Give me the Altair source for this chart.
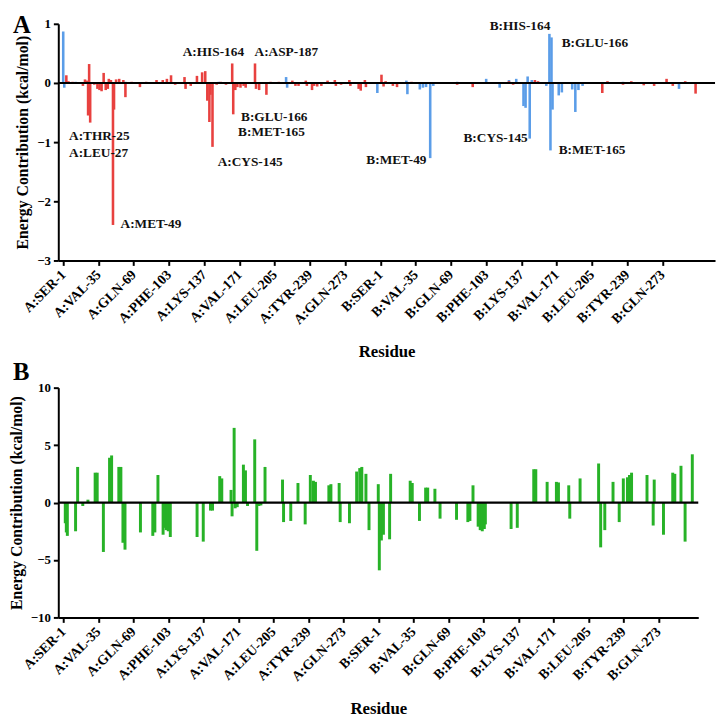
import json
import altair as alt
import pandas as pd

FONT = "Liberation Serif"

TICK_LABELS = ["A:SER-1", "A:VAL-35", "A:GLN-69", "A:PHE-103", "A:LYS-137", "A:VAL-171",
               "A:LEU-205", "A:TYR-239", "A:GLN-273", "B:SER-1", "B:VAL-35", "B:GLN-69",
               "B:PHE-103", "B:LYS-137", "B:VAL-171", "B:LEU-205", "B:TYR-239", "B:GLN-273"]
TICK_POS = [0, 34, 68, 102, 136, 170, 204, 238, 272, 306, 340, 374, 408, 442, 476, 510, 544, 578]

# Panel A, red series (residue index, energy)
RED_IDX = [3, 5, 9, 19, 21, 23, 24, 25, 26, 30, 33, 35, 37, 39, 41, 43, 44, 46, 48, 49,
           51, 54, 58, 60, 66, 74, 80, 90, 96, 100, 104, 108, 117, 118, 123, 129, 134, 137,
           139, 141, 142, 144, 148, 152, 157, 163, 164, 166, 168, 171, 174, 176, 185, 186,
           189, 196, 200, 208, 221, 224, 227, 234, 235, 240, 242, 245, 249, 255, 262, 263,
           268, 276, 277, 285, 287, 291, 292, 307, 309, 311, 318, 322, 336, 380, 395, 430,
           434, 455, 458, 520, 525, 540, 548, 560, 570, 582, 588, 600, 610]
RED_VAL = [0.13, 0.03, 0.02, -0.05, 0.06, 0.04, -0.55, 0.32, -0.67, -0.03, -0.10, -0.12, -0.14, 0.17, -0.12, -0.10, 0.07, 0.05, -2.40, -0.45,
           0.06, 0.07, 0.05, -0.24, 0.02, -0.07, 0.02, 0.05, 0.05, 0.07, 0.13, -0.03, 0.10, -0.10, -0.05, 0.12, 0.18, 0.20,
           -0.30, -0.66, -0.20, -1.08, -0.03, 0.02, -0.03, 0.33, -0.53, -0.12, -0.07, -0.08, -0.05, -0.08, 0.33, -0.10,
           -0.12, -0.20, 0.02, 0.02, 0.04, -0.05, -0.05, 0.04, -0.05, -0.12, -0.05, -0.06, -0.05, 0.04, 0.05, -0.05,
           -0.03, 0.05, -0.05, -0.10, -0.13, 0.05, -0.07, 0.14, -0.06, 0.03, -0.05, -0.07, 0.02, -0.03, -0.07, 0.03,
           -0.03, 0.05, 0.03, -0.17, 0.03, -0.03, 0.03, -0.04, -0.05, 0.07, -0.05, 0.03, -0.18]

# Panel A, blue series
BLUE_IDX = [0, 1, 12, 60, 150, 215, 216, 303, 331, 332, 344, 347, 350, 354, 357, 380, 408, 421, 430,
            437, 444, 446, 448, 450, 452, 466, 469, 470, 471, 472, 478, 481, 491, 494, 497, 501, 540, 594]
BLUE_VAL = [0.87, -0.08, 0.02, 0.02, 0.02, 0.10, -0.08, -0.17, 0.04, -0.19, -0.11, -0.08, -0.07, -1.27, -0.05, 0.02, 0.07, -0.08, 0.05,
            0.07, -0.39, -0.42, 0.11, -0.94, 0.05, -0.05, 0.83, -1.14, 0.77, -0.45, -0.21, -0.16, -0.11, -0.49, -0.12, -0.05, 0.02, -0.10]

# Panel B, green series
GREEN_IDX = [2, 3, 4, 12, 14, 19, 24, 31, 33, 39, 45, 47, 54, 56, 58, 60, 75, 87, 89, 92,
             97, 99, 100, 101, 102, 104, 130, 136, 143, 145, 152, 154, 163, 164, 166, 167, 169,
             175, 177, 179, 186, 188, 190, 192, 196, 213, 214, 221, 228, 235, 240, 243, 245,
             258, 260, 268, 269, 278, 285, 288, 290, 294, 297, 306, 307, 309, 311, 317, 318,
             337, 339, 346, 352, 354, 361, 366, 382, 393, 395, 398, 403, 405, 407, 409, 410,
             435, 441, 457, 459, 470, 479, 481, 491, 492, 502, 520, 522, 526, 534, 540, 544,
             548, 550, 552, 567, 573, 574, 583, 592, 594, 600, 604, 611]
GREEN_VAL = [-1.8, -2.6, -2.9, -2.5, 3.1, -0.3, 0.25, 2.6, 2.6, -4.3, 3.9, 4.1, 3.1, 3.1, -3.5, -4.1, -2.6, -2.9, -2.6, 2.4,
             -2.8, -2.2, -2.4, -2.3, -2.5, -3.0, -3.0, -3.4, -0.7, -0.7, 2.3, 2.1, 1.1, -1.2, 6.5, -0.5, -0.4,
             3.3, 2.8, -0.3, 5.5, -4.2, -0.3, -0.25, 3.1, 2.0, -1.7, -1.6, 1.7, -1.9, 2.4, 1.9, 1.8,
             1.5, 1.6, 1.7, -1.7, -1.8, 2.7, 3.0, 3.1, 2.5, -2.4, 1.6, -5.9, -3.3, -2.8, -3.2, 2.5,
             1.9, 1.7, -1.6, 1.3, 1.3, 1.2, -1.4, -1.5, -1.7, -1.6, 1.5, -2.1, -2.4, -2.5, -2.3, -1.9,
             -2.3, -2.2, 2.9, 2.9, 1.8, 1.8, 1.75, 1.5, -1.4, 2.1, 3.4, -3.9, -2.4, 1.8, -1.7, 2.1,
             2.2, 2.4, 2.6, 2.4, -2.0, 2.0, -2.8, 2.6, 2.5, 3.2, -3.4, 4.2]

# Panel A annotations (anchored at residue index / energy)
ANN_TEXT = ["A:THR-25", "A:LEU-27", "A:MET-49", "A:HIS-164", "A:ASP-187", "B:GLU-166", "B:MET-165",
            "A:CYS-145", "B:HIS-164", "B:GLU-166", "B:MET-49", "B:CYS-145", "B:MET-165"]
ANN_IDX = [5.6, 5.6, 55.3, 115.3, 184.6, 171.5, 168.7, 149, 411.4, 480.8, 292.4, 386.1, 478]
ANN_VAL = [-0.89, -1.19, -2.38, 0.52, 0.52, -0.58, -0.83, -1.33, 0.955, 0.67, -1.31, -0.93, -1.13]

RED = "#E8413F"
BLUE = "#5B9DE8"
GREEN = "#27B227"

label_expr = ("[" + ",".join("'" + t + "'" for t in TICK_LABELS) + "][indexof("
              + json.dumps(TICK_POS) + ", datum.value)]")

red_df = pd.DataFrame({"idx": RED_IDX, "val": RED_VAL})
blue_df = pd.DataFrame({"idx": BLUE_IDX, "val": BLUE_VAL})
green_df = pd.DataFrame({"idx": GREEN_IDX, "val": GREEN_VAL})
ann_df = pd.DataFrame({"idx": ANN_IDX, "val": ANN_VAL, "label": ANN_TEXT})
zero_df = pd.DataFrame({"idx": [0], "val": [0]})


def x_enc(maxdom):
    return alt.X("idx:Q",
                 scale=alt.Scale(domain=[0, maxdom], nice=False, zero=False),
                 axis=alt.Axis(values=TICK_POS, labelExpr=label_expr, labelAngle=-45,
                               labelAlign="right", labelBaseline="middle", title="Residue",
                               labelOverlap=False, labelBound=False, labelPadding=7,
                               labelFontSize=14, titlePadding=17, titleFontSize=17, grid=False))


def y_enc(dom, vals):
    return alt.Y("val:Q", scale=alt.Scale(domain=dom, nice=False),
                 axis=alt.Axis(values=vals, format="d", title="Energy Contribution (kcal/mol)",
                               grid=False, titlePadding=6, labelPadding=3))


def panel_title(letter, off):
    return alt.TitleParams(text=letter, anchor="start", frame="group", dx=-46,
                           fontSize=25, font=FONT, fontWeight="bold", offset=off)


XA = x_enc(624)
YA = y_enc([-3, 1], [-3, -2, -1, 0, 1])
XB = x_enc(612)
YB = y_enc([-10, 10], [-10, -5, 0, 5, 10])

barsA_blue = alt.Chart(blue_df).mark_bar(orient="vertical", size=2.6, color=BLUE).encode(
    x=XA, y=YA, y2=alt.datum(0))
barsA_red = alt.Chart(red_df).mark_bar(orient="vertical", size=2.6, color=RED).encode(
    x=XA, y=YA, y2=alt.datum(0))
zeroA = alt.Chart(zero_df).mark_rule(color="black", strokeWidth=2.2).encode(y=YA)
annA = alt.Chart(ann_df).mark_text(align="left", baseline="middle", font=FONT,
                                   fontWeight="bold", fontSize=13.5, color="#111").encode(
    x=XA, y=YA, text="label:N")

chartA = alt.layer(barsA_blue, barsA_red, zeroA, annA).properties(
    width=666, height=240, title=panel_title("A", -20))

barsB = alt.Chart(green_df).mark_bar(orient="vertical", size=3, color=GREEN).encode(
    x=XB, y=YB, y2=alt.datum(0))
zeroB = alt.Chart(zero_df).mark_rule(color="black", strokeWidth=2.2).encode(y=YB)

chartB = alt.layer(barsB, zeroB).properties(width=649, height=233, title=panel_title("B", -3))

chart = alt.vconcat(chartA, chartB, spacing=1).properties(padding=0).configure_view(
    stroke=None
).configure_axis(
    labelFont=FONT, labelFontWeight="bold", labelFontSize=13, labelColor="black",
    titleFont=FONT, titleFontWeight="bold", titleFontSize=16, titleColor="black",
    domainColor="black", domainWidth=2, tickColor="black", tickWidth=2, tickSize=5
)

chart.save("out.html", embed_options={"renderer": "svg", "actions": False})
